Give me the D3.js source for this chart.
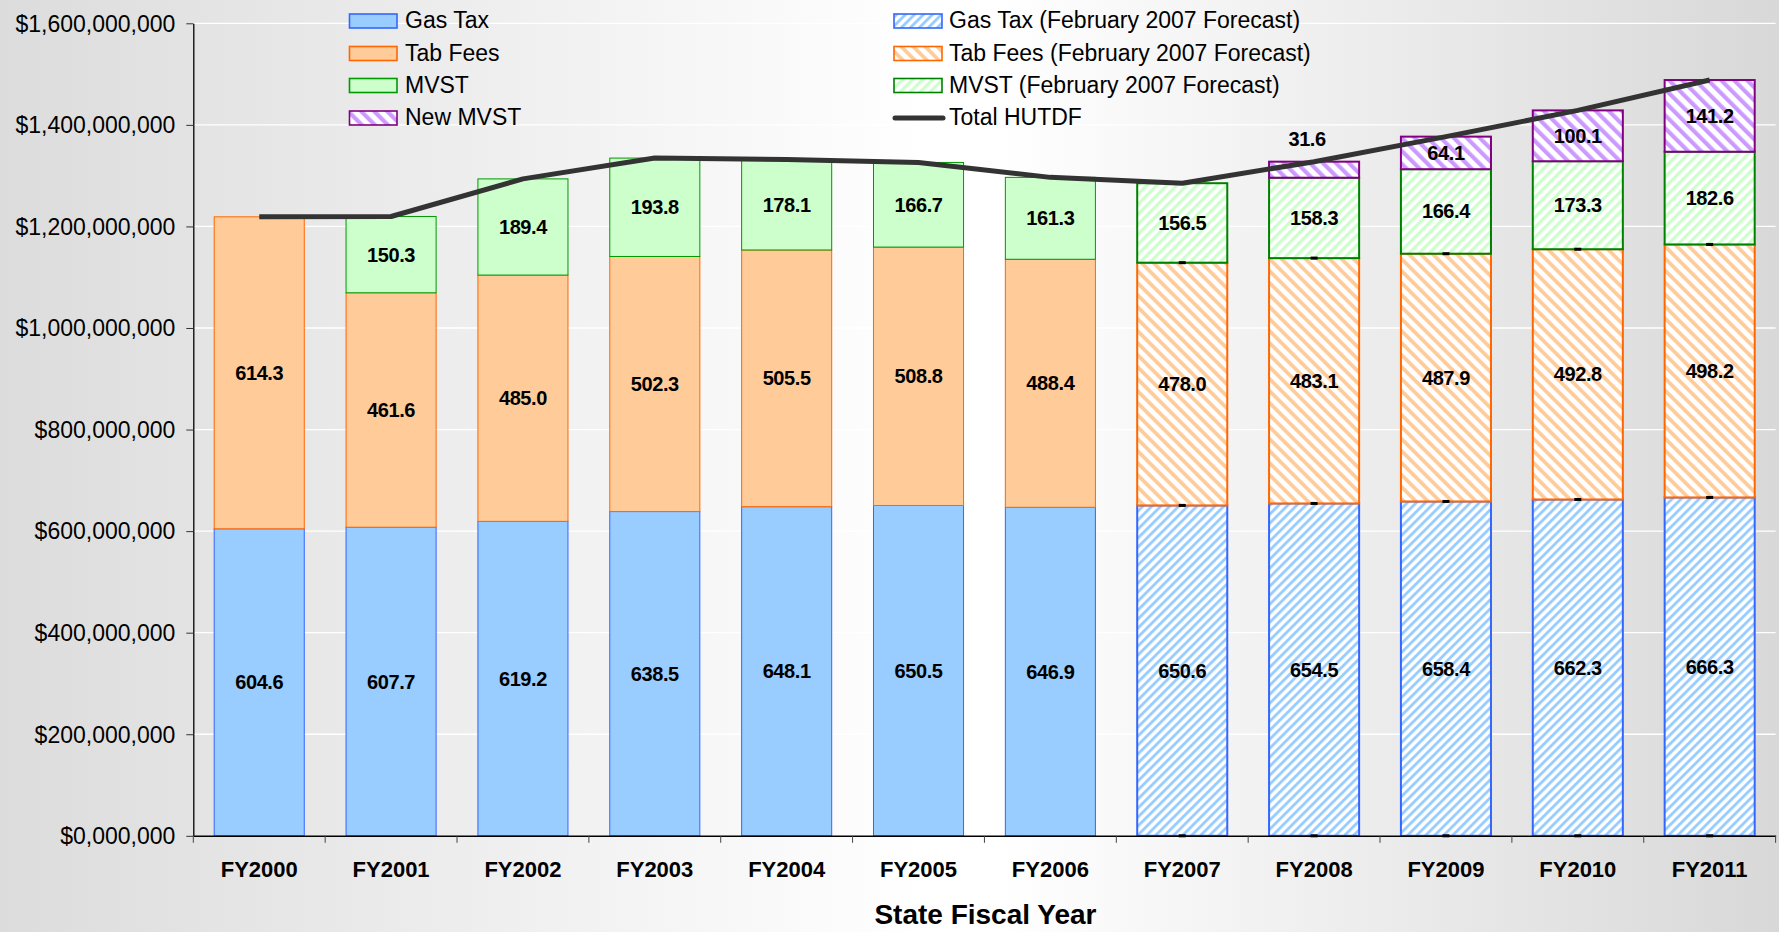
<!DOCTYPE html>
<html>
<head>
<meta charset="utf-8">
<script src="https://cdn.jsdelivr.net/npm/d3@7"></script>
<style>
  html, body { margin: 0; padding: 0; background: #fff; }
  svg { display: block; }
  text { font-family: "Liberation Sans", Arial, sans-serif; fill: #000; }
</style>
</head>
<body>
<svg id="chart" width="1779" height="932"></svg>
<script>
// ---------------- data (values in $ millions) ----------------
const categories = ["FY2000","FY2001","FY2002","FY2003","FY2004","FY2005","FY2006","FY2007","FY2008","FY2009","FY2010","FY2011"];
const gasTax         = [604.6, 607.7, 619.2, 638.5, 648.1, 650.5, 646.9, 0, 0, 0, 0, 0];
const gasTaxForecast = [0, 0, 0, 0, 0, 0, 0, 650.6, 654.5, 658.4, 662.3, 666.3];
const tabFees         = [614.3, 461.6, 485.0, 502.3, 505.5, 508.8, 488.4, 0, 0, 0, 0, 0];
const tabFeesForecast = [0, 0, 0, 0, 0, 0, 0, 478.0, 483.1, 487.9, 492.8, 498.2];
const mvst         = [0, 150.3, 189.4, 193.8, 178.1, 166.7, 161.3, 0, 0, 0, 0, 0];
const mvstForecast = [0, 0, 0, 0, 0, 0, 0, 156.5, 158.3, 166.4, 173.3, 182.6];
const newMvst      = [0, 0, 0, 0, 0, 0, 0, 0, 31.6, 64.1, 100.1, 141.2];
const totalHutdf   = [1218.9, 1219.6, 1293.6, 1334.6, 1331.7, 1326.0, 1296.6, 1285.1, 1327.5, 1376.8, 1428.5, 1488.3];
const forecastCategories = ["FY2007","FY2008","FY2009","FY2010","FY2011"];

const yTickValues = [0, 200, 400, 600, 800, 1000, 1200, 1400, 1600];
const yTickLabels = ["$0,000,000","$200,000,000","$400,000,000","$600,000,000","$800,000,000",
                     "$1,000,000,000","$1,200,000,000","$1,400,000,000","$1,600,000,000"];
const xAxisTitle = "State Fiscal Year";
const legendLeft  = ["Gas Tax","Tab Fees","MVST","New MVST"];
const legendRight = ["Gas Tax (February 2007 Forecast)","Tab Fees (February 2007 Forecast)","MVST (February 2007 Forecast)","Total HUTDF"];

// ---------------- styles ----------------
const seriesKeys = ["gasTax","gasTaxForecast","tabFees","tabFeesForecast","mvst","mvstForecast","newMvst"];
const seriesData = {gasTax, gasTaxForecast, tabFees, tabFeesForecast, mvst, mvstForecast, newMvst};
const styles = {
  gasTax:          {fill:"#99CCFF", stroke:"#3366FF", sw:1},
  gasTaxForecast:  {fill:"url(#pGas)", stroke:"#3366FF", sw:2},
  tabFees:         {fill:"#FFCC99", stroke:"#FF6600", sw:1},
  tabFeesForecast: {fill:"url(#pTab)", stroke:"#FF6600", sw:2},
  mvst:            {fill:"#CCFFCC", stroke:"#009900", sw:1},
  mvstForecast:    {fill:"url(#pMvst)", stroke:"#008000", sw:2},
  newMvst:         {fill:"url(#pNew)", stroke:"#800080", sw:2}
};

const W = 1779, H = 932;
const plotLeft = 193.3, plotRight = 1775.6, plotTop = 23.3, plotBottom = 835.8;

const svg = d3.select("#chart");
const defs = svg.append("defs");

// background gradient
const grad = defs.append("linearGradient").attr("id","bg").attr("x1","0").attr("x2","1").attr("y1","0").attr("y2","0");
grad.append("stop").attr("offset","0").attr("stop-color","#dcdcdc");
grad.append("stop").attr("offset","0.52").attr("stop-color","#ffffff");
grad.append("stop").attr("offset","0.56").attr("stop-color","#ffffff");
grad.append("stop").attr("offset","1").attr("stop-color","#d8d8d8");

function stripe(id, color, hPeriod, angle, frac) {
  const p = hPeriod * Math.SQRT1_2;
  const pat = defs.append("pattern").attr("id", id).attr("patternUnits","userSpaceOnUse")
    .attr("width", p).attr("height", p).attr("patternTransform", `rotate(${angle})`);
  pat.append("rect").attr("width", p).attr("height", p).attr("fill", "#ffffff");
  pat.append("rect").attr("width", p * frac).attr("height", p).attr("fill", color);
}
stripe("pGas", "#99CCFF", 9, 45, 0.45);
stripe("pTab", "#FFCC99", 12, -45, 0.45);
stripe("pMvst", "#CCFFCC", 10, 45, 0.45);
stripe("pNew", "#CC99FF", 13, -45, 0.45);

svg.append("rect").attr("width", W).attr("height", H).attr("fill", "url(#bg)");

// scales
const x = d3.scaleBand().domain(categories).range([plotLeft, plotRight]).paddingInner(0.317).paddingOuter(0.1585);
const y = d3.scaleLinear().domain([0, 1600]).range([plotBottom, plotTop]);

// gridlines
svg.append("g").selectAll("line").data(yTickValues.filter(d => d > 0)).join("line")
  .attr("x1", plotLeft).attr("x2", plotRight)
  .attr("y1", d => y(d)).attr("y2", d => y(d))
  .attr("stroke", "#ffffff").attr("stroke-width", 1.3);

// stacked bars
const rows = categories.map((c, i) => {
  const r = {cat: c};
  seriesKeys.forEach(k => r[k] = seriesData[k][i]);
  return r;
});
const stacked = d3.stack().keys(seriesKeys)(rows);

const barG = svg.append("g");
stacked.forEach(layer => {
  const st = styles[layer.key];
  barG.append("g").selectAll("rect")
    .data(layer.filter(d => d[1] - d[0] > 0))
    .join("rect")
    .attr("x", d => x(d.data.cat))
    .attr("width", x.bandwidth())
    .attr("y", d => y(d[1]))
    .attr("height", d => y(d[0]) - y(d[1]))
    .attr("fill", st.fill)
    .attr("stroke", st.stroke)
    .attr("stroke-width", st.sw);
});

// small black markers at forecast segment boundaries
const markerData = [];
forecastCategories.forEach(c => {
  const i = categories.indexOf(c);
  markerData.push({cat: c, v: 0});
  markerData.push({cat: c, v: gasTaxForecast[i]});
  markerData.push({cat: c, v: gasTaxForecast[i] + tabFeesForecast[i]});
});
svg.append("g").selectAll("rect").data(markerData).join("rect")
  .attr("x", d => x(d.cat) + x.bandwidth() / 2 - 3.5)
  .attr("y", d => y(d.v) - 1.5)
  .attr("width", 7).attr("height", 3).attr("fill", "#000");

// axes
const yAxis = svg.append("g").attr("transform", `translate(${plotLeft},0)`)
  .call(d3.axisLeft(y).tickValues(yTickValues).tickFormat((d, i) => yTickLabels[i]).tickSize(7).tickPadding(11).tickSizeOuter(0));
yAxis.select(".domain").attr("stroke", "#000").attr("stroke-width", 1.3);
yAxis.selectAll(".tick line").attr("stroke", "#333");
yAxis.selectAll(".tick text").attr("font-size", 23).attr("font-family", '"Liberation Sans", Arial, sans-serif').attr("fill", "#000").attr("dy", "0.34em");

const xAxis = svg.append("g").attr("transform", `translate(0,${plotBottom})`)
  .call(d3.axisBottom(x).tickSize(0).tickSizeOuter(0));
xAxis.select(".domain").attr("stroke", "#000").attr("stroke-width", 1.5);
xAxis.selectAll(".tick text").attr("font-size", 22).attr("font-weight", "bold")
  .attr("font-family", '"Liberation Sans", Arial, sans-serif').attr("fill", "#000")
  .attr("dy", null).attr("y", 41);
// category boundary ticks
const bounds = d3.range(categories.length + 1).map(i => x.range()[0] + i * x.step());
xAxis.append("g").selectAll("line").data(bounds).join("line")
  .attr("x1", d => d).attr("x2", d => d).attr("y1", 0).attr("y2", 7)
  .attr("stroke", "#444").attr("stroke-width", 1);

svg.append("text").attr("x", (plotLeft + plotRight) / 2 + 1).attr("y", 924)
  .attr("text-anchor", "middle").attr("font-size", 28).attr("font-weight", "bold").text(xAxisTitle);

// total line
const line = d3.line().x((d, i) => x(categories[i]) + x.bandwidth() / 2).y(d => y(d));
svg.append("path").datum(totalHutdf).attr("d", line)
  .attr("fill", "none").attr("stroke", "#333333").attr("stroke-width", 5)
  .attr("stroke-linejoin", "round");

// data labels
const labelG = svg.append("g");
stacked.forEach(layer => {
  layer.filter(d => d[1] - d[0] > 0).forEach(d => {
    const v = d[1] - d[0];
    const h = y(d[0]) - y(d[1]);
    const cx = x(d.data.cat) + x.bandwidth() / 2;
    let ty, dx = 0;
    if (h < 25) { ty = y(d[1]) - 16; dx = -7; }
    else { ty = (y(d[0]) + y(d[1])) / 2 + 7; }
    labelG.append("text").attr("x", cx + dx).attr("y", ty)
      .attr("text-anchor", "middle").attr("font-size", 20).attr("font-weight", "bold")
      .attr("letter-spacing", "-0.4").text(v.toFixed(1));
  });
});

// legend
const rowY = [21, 53.5, 85.5, 118];
const legL = svg.append("g");
legendLeft.forEach((name, i) => {
  const key = ["gasTax","tabFees","mvst","newMvst"][i];
  const st = styles[key];
  legL.append("rect").attr("x", 349.5).attr("y", rowY[i] - 7).attr("width", 47.5).attr("height", 14)
    .attr("fill", st.fill).attr("stroke", st.stroke).attr("stroke-width", 1.6);
  legL.append("text").attr("x", 405).attr("y", rowY[i] + 7).attr("font-size", 23).text(name);
});
const legR = svg.append("g");
legendRight.forEach((name, i) => {
  if (i < 3) {
    const key = ["gasTaxForecast","tabFeesForecast","mvstForecast"][i];
    const st = styles[key];
    legR.append("rect").attr("x", 894).attr("y", rowY[i] - 7).attr("width", 48).attr("height", 14)
      .attr("fill", st.fill).attr("stroke", st.stroke).attr("stroke-width", 1.6);
  } else {
    legR.append("line").attr("x1", 895).attr("x2", 943).attr("y1", rowY[i]).attr("y2", rowY[i])
      .attr("stroke", "#333333").attr("stroke-width", 5).attr("stroke-linecap", "round");
  }
  legR.append("text").attr("x", 949).attr("y", rowY[i] + 7).attr("font-size", 23).text(name);
});
</script>
</body>
</html>
